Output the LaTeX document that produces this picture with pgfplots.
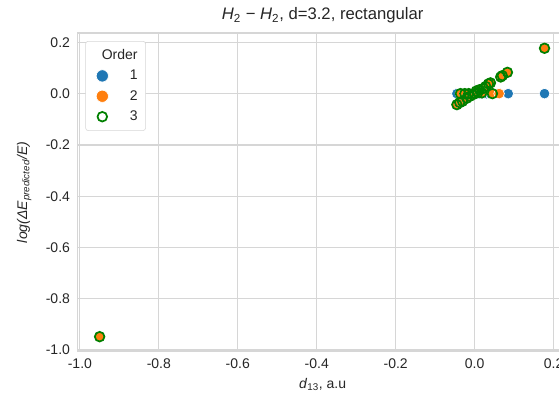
\documentclass[border=0pt]{standalone}
\usepackage{fontspec}
\setmainfont{Liberation Sans}
\usepackage{pgfplots}
\pgfplotsset{compat=1.18}

\definecolor{sbblue}{HTML}{1F77B4}
\definecolor{sborange}{HTML}{FF7F0E}
\definecolor{sbgreen}{HTML}{008000}
\definecolor{gridgray}{HTML}{D6D6D6}
\definecolor{txt}{HTML}{262626}

% order 1
\pgfplotstableread{
x y
-0.045 0
-0.035 0
-0.025 0
-0.015 0
-0.008 0
0.000 0
0.006 0
0.012 0
0.020 0
0.030 0
0.040 0
0.062 0
0.085 0
0.177 0
}\ordone

% order 2
\pgfplotstableread{
x y
-0.950 -0.948
-0.045 -0.043
-0.038 -0.035
-0.031 -0.030
-0.036 0.000
-0.025 0.000
-0.020 -0.018
-0.012 -0.010
-0.015 0.000
-0.005 -0.004
0.000 0.000
0.004 0.010
0.008 0.004
0.012 0.015
0.018 0.003
0.022 0.020
0.028 0.028
0.035 0.038
0.040 0.042
0.045 0.000
0.062 0.000
0.066 0.065
0.070 0.070
0.083 0.083
0.177 0.177
}\ordtwo

% order 3
\pgfplotstableread{
x y
-0.950 -0.948
-0.045 -0.043
-0.038 -0.035
-0.031 -0.030
-0.036 0.000
-0.025 0.000
-0.020 -0.018
-0.012 -0.010
-0.015 0.000
-0.005 -0.004
0.000 0.000
0.004 0.010
0.008 0.004
0.012 0.015
0.018 0.003
0.022 0.020
0.028 0.028
0.035 0.038
0.040 0.042
0.045 0.000
0.066 0.065
0.070 0.070
0.083 0.083
0.177 0.177
}\ordthree

\begin{document}
\begin{tikzpicture}
\begin{axis}[
  name=ax,
  scale only axis,
  width=368pt, height=239pt,
  xmin=-1.0065, xmax=0.2365,
  ymin=-1.0065, ymax=0.2365,
  xtick={-1.0,-0.8,...,0.21},
  ytick={-1.0,-0.8,...,0.21},
  /pgf/number format/.cd, fixed, fixed zerofill, precision=1, assume math mode=true,
  /pgfplots/.cd,
  tick style={draw=none},
  grid=major,
  grid style={gridgray, line width=0.9pt},
  axis line style={gridgray, line width=1pt},
  ticklabel style={font=\fontsize{10.5}{12}\selectfont, text=txt},
  xticklabel={\pgfmathprintnumber[fixed,fixed zerofill,precision=1]{\tick}},
  yticklabel={\pgfmathprintnumber[fixed,fixed zerofill,precision=1]{\tick}},
  xticklabel style={yshift=-2pt},
  yticklabel style={xshift=-2pt},
  title={\textit{H}\textsubscript{2} − \textit{H}\textsubscript{2}, d=3.2, rectangular},
  title style={font=\fontsize{12.5}{14}\selectfont, text=txt, yshift=-2pt},
  xlabel={\textit{d}\textsubscript{13}, a.u},
  ylabel={\textit{log(ΔE}\textsubscript{\textit{predicted}}\textit{/E)}},
  label style={font=\fontsize{10.5}{12}\selectfont, text=txt},
  xlabel style={yshift=0pt},
  ylabel style={yshift=4pt},
  legend style={at={(0,1)}, anchor=north west, xshift=6pt, yshift=-6pt,
    draw=gridgray, rounded corners=2pt, fill=white,
    font=\fontsize{10.5}{12}\selectfont, text=txt,
    inner xsep=4pt, inner ysep=4pt, row sep=2.5pt},
  legend cell align=right,
]
\addlegendimage{empty legend}
\addlegendentry{\hspace*{-22pt}Order}
\addplot[only marks, mark=*, mark size=4pt, draw=white, line width=0.5pt, fill=sbblue,
  legend image post style={mark size=4.6pt}]
  table {\ordone};
\addlegendentry{\hspace*{14pt}1}
\addplot[only marks, mark=*, mark size=4pt, draw=white, line width=0.5pt, fill=sborange,
  legend image post style={mark size=4.6pt}]
  table {\ordtwo};
\addlegendentry{\hspace*{14pt}2}
\addplot[only marks, mark=o, mark size=3.6pt, draw=sbgreen, line width=1.3pt]
  table {\ordthree};
\addlegendentry{\hspace*{14pt}3}
\end{axis}
\pgfresetboundingbox
\useasboundingbox ([xshift=-58pt,yshift=-36.75pt]ax.south west)
  rectangle ([xshift=-6.75pt,yshift=24.75pt]ax.north east);
\end{tikzpicture}
\end{document}
